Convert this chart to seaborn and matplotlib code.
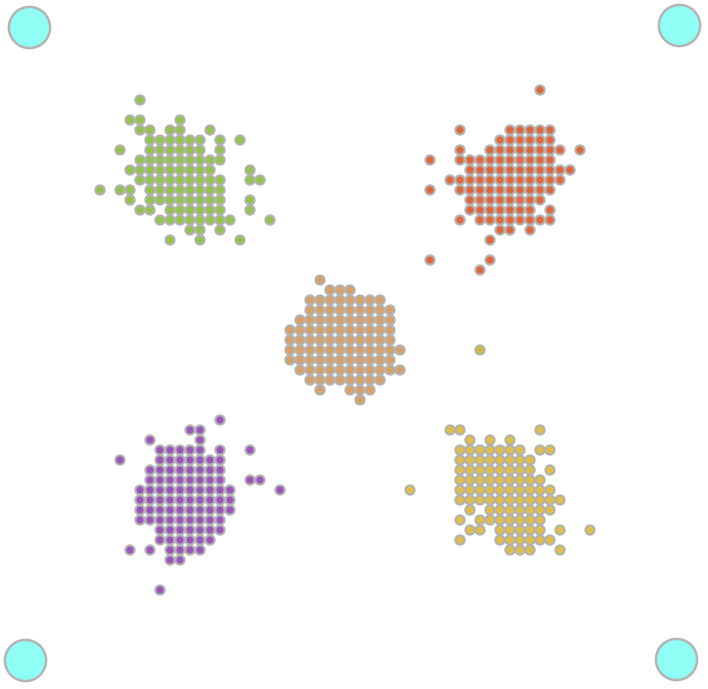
import matplotlib
matplotlib.use("Agg")
import matplotlib.pyplot as plt
import seaborn as sns
import pandas as pd

# ---- data: rows of grid points (y: list of x) per cluster ----
green_rows = {
    100: [140],
    120: [130, 140, 180],
    130: [140, 150, 170, 180, 210],
    140: [150, 160, 170, 180, 190, 200, 220, 240],
    150: [120, 150, 160, 170, 180, 190, 200, 220],
    160: [140, 150, 160, 170, 180, 190, 200, 210, 220],
    170: [130, 140, 150, 160, 170, 180, 190, 200, 210, 250],
    180: [140, 150, 160, 170, 180, 190, 200, 210, 220, 250, 260],
    190: [100, 120, 130, 150, 160, 170, 180, 190, 200, 210, 220],
    200: [130, 150, 160, 170, 180, 190, 200, 210, 220, 250],
    210: [140, 150, 170, 180, 190, 200, 210, 220, 250],
    220: [160, 170, 180, 190, 200, 210, 220, 230, 270],
    230: [190, 200, 220],
    240: [170, 200, 240],
}
orange_rows = {
    90: [540],
    130: [460, 510, 520, 530, 540, 550],
    140: [500, 510, 520, 530, 540, 550],
    150: [460, 490, 500, 510, 520, 530, 540, 550, 560, 580],
    160: [430, 460, 470, 480, 490, 500, 510, 520, 530, 540, 550],
    170: [470, 480, 490, 500, 510, 520, 530, 540, 550, 560, 570],
    180: [450, 460, 470, 480, 490, 500, 510, 520, 530, 540, 550, 560],
    190: [430, 460, 470, 480, 490, 500, 510, 520, 530, 540, 550],
    200: [470, 480, 490, 500, 510, 520, 530, 540],
    210: [470, 480, 490, 500, 510, 520, 530, 550],
    220: [460, 480, 490, 500, 510, 520, 530, 540, 550],
    230: [500, 510, 530],
    240: [490],
    260: [430, 490],
    270: [480],
}
center_rows = {
    280: [320],
    290: [330, 340, 350],
    300: [310, 320, 330, 340, 350, 360, 370, 380],
    310: [310, 320, 330, 340, 350, 360, 370, 380, 390],
    320: [300, 310, 320, 330, 340, 350, 360, 370, 380, 390],
    330: [290, 300, 310, 320, 330, 340, 350, 360, 370, 380, 390],
    340: [290, 300, 310, 320, 330, 340, 350, 360, 370, 380, 390],
    350: [290, 300, 310, 320, 330, 340, 350, 360, 370, 380, 390, 400],
    360: [290, 300, 310, 320, 330, 340, 350, 360, 370, 380, 390],
    370: [300, 310, 320, 330, 340, 350, 360, 370, 380, 390, 400],
    380: [310, 320, 330, 340, 350, 360, 370, 380],
    390: [320, 350, 360, 370],
    400: [360],
}
purple_rows = {
    420: [220],
    430: [190, 200],
    440: [150, 200],
    450: [160, 170, 180, 190, 200, 220, 250],
    460: [120, 160, 170, 180, 190, 200, 210, 220],
    470: [150, 160, 170, 180, 190, 200, 210, 220],
    480: [150, 160, 170, 180, 190, 200, 210, 220, 250, 260],
    490: [140, 150, 160, 170, 180, 190, 200, 210, 220, 230, 280],
    500: [140, 150, 160, 170, 180, 190, 200, 210, 220, 230],
    510: [140, 150, 160, 170, 180, 190, 200, 210, 220, 230],
    520: [140, 150, 160, 170, 180, 190, 200, 210, 220],
    530: [160, 170, 180, 190, 200, 210, 220],
    540: [160, 170, 180, 190, 200, 210],
    550: [130, 150, 170, 180, 190, 200],
    560: [170, 180],
    590: [160],
}
yellow_rows = {
    430: [450, 460, 540],
    440: [470, 490, 510],
    450: [460, 470, 480, 490, 500, 510, 520, 540, 550],
    460: [460, 470, 480, 490, 500, 510, 520, 530],
    470: [460, 470, 480, 490, 500, 510, 520, 530, 550],
    480: [460, 470, 480, 490, 500, 510, 520, 530, 540],
    490: [410, 460, 470, 480, 490, 500, 510, 520, 530, 540, 550],
    500: [460, 470, 480, 490, 500, 510, 520, 530, 540, 550, 560],
    510: [470, 490, 500, 510, 520, 530, 540, 550],
    520: [460, 480, 490, 500, 510, 520, 530, 540],
    530: [470, 480, 500, 510, 520, 530, 540, 560, 590],
    540: [460, 500, 510, 520, 530, 540, 550],
    550: [510, 520, 530, 560],
}
stray_x = [480]
stray_y = [350]

corner_x = [29, 679, 25, 676]
corner_y = [27, 25, 660, 659]

cluster_colors = {
    "green": "#93c646",
    "orange": "#e2663a",
    "center": "#d9a062",
    "purple": "#9a55bd",
    "yellow": "#e0c044",
    "stray": "#cabf3a",
}

records = []
for name, rows in [("green", green_rows), ("orange", orange_rows),
                   ("center", center_rows), ("purple", purple_rows),
                   ("yellow", yellow_rows)]:
    for y, xs in rows.items():
        for x in xs:
            records.append({"x": x, "y": y, "cluster": name})
for x, y in zip(stray_x, stray_y):
    records.append({"x": x, "y": y, "cluster": "stray"})
df = pd.DataFrame(records)
corners = pd.DataFrame({"x": corner_x, "y": corner_y})

fig = plt.figure(figsize=(7.08, 6.89), dpi=100)
ax = fig.add_axes([0, 0, 1, 1])

sns.scatterplot(data=df, x="x", y="y", hue="cluster", palette=cluster_colors,
                s=44, edgecolor="#b2b2b2", linewidth=1.5, legend=False, ax=ax)
sns.scatterplot(data=corners, x="x", y="y", color="#8ffff6", s=880,
                edgecolor="#b4b4b4", linewidth=1.8, legend=False, ax=ax)

ax.set_xlim(0, 708)
ax.set_ylim(689, 0)
ax.axis("off")
fig.savefig("out.png", dpi=100)
